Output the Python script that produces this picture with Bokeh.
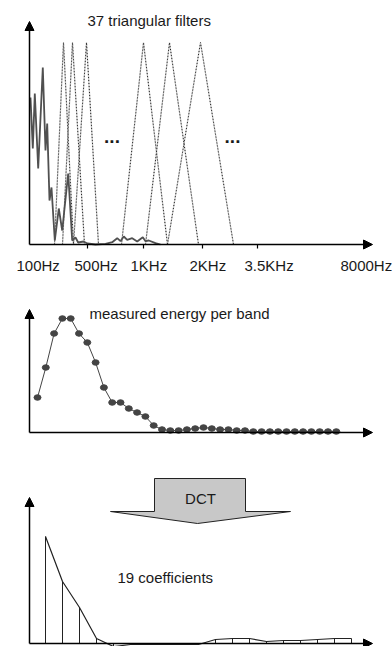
import numpy as np
from bokeh.plotting import figure
from bokeh.layouts import column
from bokeh.models import Range1d, Arrow, NormalHead
from bokeh.core.properties import value
from bokeh.embed import file_html
from bokeh.resources import INLINE

# ---------------- data ----------------
# Panel 1: spectrum on a warped frequency axis (position units), magnitude
spec_pos = [1, 3.3, 5.3, 8.7, 13.3, 16, 17.7, 20, 22, 25.3, 29.3, 32.7, 38.7, 42.7, 46, 48.7,
            54, 58, 66, 76, 82.7, 87.7, 91, 94.3, 97.7, 102.7, 107.7, 113.3, 116, 119.3, 126, 131]
spec_mag = [147, 96, 151, 76, 177, 94, 121, 44, 57, 4, 36, 14, 71, 4, 7, 2,
            3, 1, 0, 0.7, 2.3, 6.3, 3.3, 8, 4.7, 6.3, 3, 7.3, 3.3, 4, 1.3, 0]
# six of the 37 triangular filters drawn (left base, peak, right base)
filt_left = [25, 33, 44, 92, 116, 138]
filt_center = [34, 43, 57, 114, 140, 171]
filt_right = [44, 55, 69, 138, 169, 204]
filt_gain = 202
# frequency axis
tick_pos = [58, 114, 173, 228]
freq_labels = ["100Hz", "500Hz", "1KHz", "2KHz", "3.5KHz", "8000Hz"]
freq_label_pos = [0, 58, 114, 173, 228, 324]

# Panel 2: measured energy per band (37 bands)
band = list(range(1, 38))
energy = [35, 65, 99, 114, 114, 99, 90, 70, 45, 30, 30, 24, 20, 16, 7, 3,
          2, 2, 3, 4, 5, 4, 3, 3, 2, 2,
          1, 1, 1, 1, 1, 1, 1, 1, 1, 1, 1]

# Panel 3: 19 DCT coefficients
coef_idx = list(range(1, 20))
coef = [107, 62, 36, 5, -3, -1, -1, -1, -1, -1, 4, 5, 5, 2, 3, 3, 4, 5, 5]

# ---------------- styling ----------------
FONT = value("Liberation Sans")
TXT = "#1a1a1a"
W = 392


def panel(height, top_py, fx, fy):
    p = figure(width=W, height=height,
               x_range=Range1d(fx(0), fx(W)),
               y_range=Range1d(fy(top_py + height), fy(top_py)),
               output_backend="svg", toolbar_location=None,
               x_axis_type=None, y_axis_type=None, min_border=0,
               outline_line_color=None, background_fill_color="white",
               border_fill_color="white")
    return p


def axes_arrows(p, x0, y0, x_tip, y_tip):
    for (xs, ys, xe, ye) in [(x0, y0, x_tip, y0), (x0, y0, x0, y_tip)]:
        p.add_layout(Arrow(end=NormalHead(size=9, fill_color="black", line_color="black", line_width=1),
                           x_start=xs, y_start=ys, x_end=xe, y_end=ye,
                           line_width=1.5, line_color="black"))


def label(p, x, y, s, align="left", size="15px", style="normal", baseline="middle"):
    p.text(x=[x], y=[y], text=[s], text_font=FONT, text_font_size=size,
           text_color=TXT, text_align=align, text_baseline=baseline,
           text_font_style=style)


# ---------- panel 1 ----------
fx1 = lambda px: px - 29
fy1 = lambda py: 244 - py
p1 = panel(290, 0, fx1, fy1)

fxs = [[l, c, r] for l, c, r in zip(filt_left, filt_center, filt_right)]
fys = [[0, filt_gain, 0] for _ in filt_center]
p1.multi_line(xs=fxs, ys=fys, line_color="#c4c4c4", line_width=1.3)
p1.multi_line(xs=fxs, ys=fys, line_color="#222222", line_width=1, line_dash="1 2")
p1.line(spec_pos, spec_mag, line_color="#505050", line_width=1.8)
p1.segment(x0=tick_pos, y0=[0] * len(tick_pos), x1=tick_pos, y1=[fy1(248)] * len(tick_pos),
           line_color="black", line_width=1.2)
p1.text(x=[v - 13 for v in freq_label_pos], y=[fy1(265)] * len(freq_labels), text=freq_labels,
        text_font=FONT, text_font_size="15px", text_color=TXT,
        text_align="left", text_baseline="middle")
axes_arrows(p1, 0, 0, fx1(372), fy1(21))
label(p1, fx1(87), fy1(20), "37 triangular filters")
label(p1, fx1(111.5), fy1(135.5), "...", align="center", size="19px", style="bold", baseline="alphabetic")
label(p1, fx1(232), fy1(135.5), "...", align="center", size="19px", style="bold", baseline="alphabetic")

# ---------- panel 2 ----------
fx2 = lambda px: 1 + (px - 37) / 8.3
fy2 = lambda py: 432 - py
p2 = panel(170, 290, fx2, fy2)
p2.line(band, energy, line_color="#444444", line_width=1)
p2.ellipse(x=band, y=energy, width=7, height=5.5, width_units="screen", height_units="screen",
           fill_color="#444444", line_color="#444444")
axes_arrows(p2, fx2(29), 0, fx2(372), fy2(309))
label(p2, fx2(89), fy2(313), "measured energy per band")

# ---------- panel 3 ----------
fx3 = lambda px: 1 + (px - 45) / 17
fy3 = lambda py: 643 - py
p3 = panel(186, 460, fx3, fy3)
dct_px = [154, 245, 245, 290, 197, 110, 154]
dct_py = [478, 478, 511, 511, 523, 511, 511]
p3.patch([fx3(v) for v in dct_px], [fy3(v) for v in dct_py],
         fill_color="#c8c8c8", line_color="#222222", line_width=1)
label(p3, fx3(200), fy3(497.5), "DCT", align="center")
p3.segment(x0=coef_idx, y0=[0] * len(coef), x1=coef_idx, y1=coef, line_color="#222222", line_width=1)
p3.line(coef_idx, coef, line_color="#222222", line_width=1.2)
axes_arrows(p3, fx3(29), 0, fx3(372), fy3(497))
label(p3, fx3(117), fy3(577), "19 coefficients")

layout = column(p1, p2, p3, spacing=0)
open("out.html", "w").write(file_html(layout, INLINE))
